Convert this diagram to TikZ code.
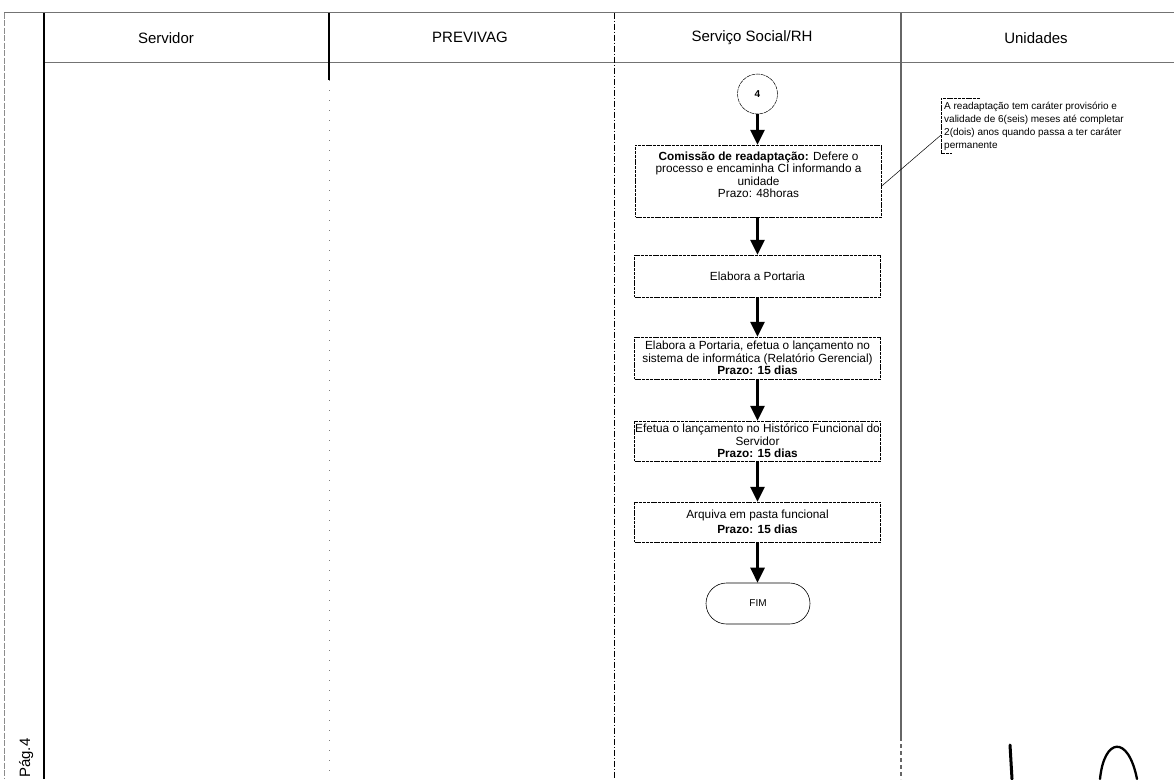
\documentclass[tikz,border=0pt]{standalone}
\usepackage{fontspec}
\setmainfont{Liberation Sans}
\usetikzlibrary{arrows.meta,shapes.misc}

\tikzset{
  lanehead/.style={font=\fontsize{15}{18}\selectfont, inner sep=0pt},
  stepbox/.style={draw, line width=0.5pt, dash pattern=on 3pt off 0.8pt,
    minimum width=246pt, align=center, inner sep=0pt,
    font=\fontsize{11.8}{12.6}\selectfont},
  flow/.style={line width=2.7pt, -{Triangle[length=15pt,width=14pt]}},
  connector/.style={draw, circle, line width=0.5pt, dash pattern=on 4pt off 0.8pt,
    minimum size=40pt, inner sep=0pt, font=\fontsize{10}{11}\selectfont\bfseries},
  terminal/.style={draw, rounded rectangle, line width=0.6pt,
    minimum width=104pt, minimum height=41pt, inner sep=0pt,
    font=\fontsize{10}{11}\selectfont},
  notetext/.style={align=left, inner sep=0pt, font=\fontsize{10}{13}\selectfont},
  frameline/.style={line width=1.3pt, black!55},
}

\begin{document}
\begin{tikzpicture}[x=1pt,y=-1pt]
\useasboundingbox (0,0) rectangle (1174,779);

% swimlane frame
\draw[frameline] (4,12.7) -- (1174,12.7);
\draw[frameline] (44,62.7) -- (1174,62.7);
\draw[black!45, line width=1pt, dash pattern=on 6pt off 1.5pt] (4,12.7) -- (4,779);
\draw[black, line width=1.1pt] (44,12.7) -- (44,779);
\draw[black, line width=1.1pt] (329,12.7) -- (329,80);
\draw[black!50, line width=0.8pt, dash pattern=on 1pt off 9pt] (329,80) -- (329,779);
\draw[black, line width=0.7pt, dash pattern=on 6pt off 2pt on 1pt off 2pt] (614,12.7) -- (614,779);
\draw[black!60, line width=1.2pt] (901,12.7) -- (901,737);
\draw[black!60, line width=1.2pt, dash pattern=on 4pt off 3pt] (901,737) -- (901,779);

% lane titles
\node[lanehead] (h1) at (166,37.7) {Servidor};
\node[lanehead] (h2) at (470,37.7) {PREVIVAG};
\node[lanehead] (h3) at (752,37.7) {Serviço Social/RH};
\node[lanehead] (h4) at (1036,37.7) {Unidades};

% page number in the side column
\node[rotate=90, anchor=base west, font=\fontsize{15}{18}\selectfont, inner sep=0pt] (pg) at (30,778) {Pág.4};

% process steps
\node[connector] (c4) at (757.5,94) {4};
\node[stepbox, minimum height=72pt] (b1) at (758.5,181) {%
  \textbf{Comissão de readaptação:} Defere o\\
  processo e encaminha CI informando a\\
  unidade\\
  Prazo: 48horas\\
  \mbox{}};
\node[stepbox, minimum height=42pt] (b2) at (757.5,276) {Elabora a Portaria};
\node[stepbox, minimum height=42pt] (b3) at (757.5,358) {%
  Elabora a Portaria, efetua o lançamento no\\
  sistema de informática (Relatório Gerencial)\\
  \textbf{Prazo: 15 dias}};
\node[stepbox, minimum height=40pt] (b4) at (757.5,441) {%
  Efetua o lançamento no Histórico Funcional do\\
  Servidor\\
  \textbf{Prazo: 15 dias}};
\node[stepbox, minimum height=40pt] (b5) at (757.5,522) {%
  Arquiva em pasta funcional\\[2pt]
  \textbf{Prazo: 15 dias}};
\node[terminal] (fim) at (758,603.5) {FIM};

\draw[flow] (c4.south) -- (b1.north -| c4.south);
\draw[flow] (b1.south -| c4.south) -- (b2.north -| c4.south);
\draw[flow] (b2.south -| c4.south) -- (b3.north -| c4.south);
\draw[flow] (b3.south -| c4.south) -- (b4.north -| c4.south);
\draw[flow] (b4.south -| c4.south) -- (b5.north -| c4.south);
\draw[flow] (b5.south -| c4.south) -- (fim.north -| c4.south);

% annotation with its bracket and leader
\node[notetext, anchor=north west] (note) at (944,101.5) {%
  A readaptação tem caráter provisório e\\
  validade de 6(seis) meses até completar\\
  2(dois) anos quando passa a ter caráter\\
  permanente};
\coordinate (nt) at (980,98);
\coordinate (nb) at (952,153);
\coordinate (nl) at (941,135);
\draw[line width=0.5pt, dash pattern=on 3pt off 0.8pt] (nt) -- (941,98) -- (941,153) -- (nb);
\draw[line width=0.5pt] ([yshift=-5pt]b1.east) -- (nl);

% handwritten marks at the foot of the page
\draw[line width=3pt, line cap=round] (1010,745) -- (1012,779);
\draw[line width=2.3pt, line cap=round] (1100,779) .. controls (1104,738) and (1128,734) .. (1137,779);
\end{tikzpicture}
\end{document}
